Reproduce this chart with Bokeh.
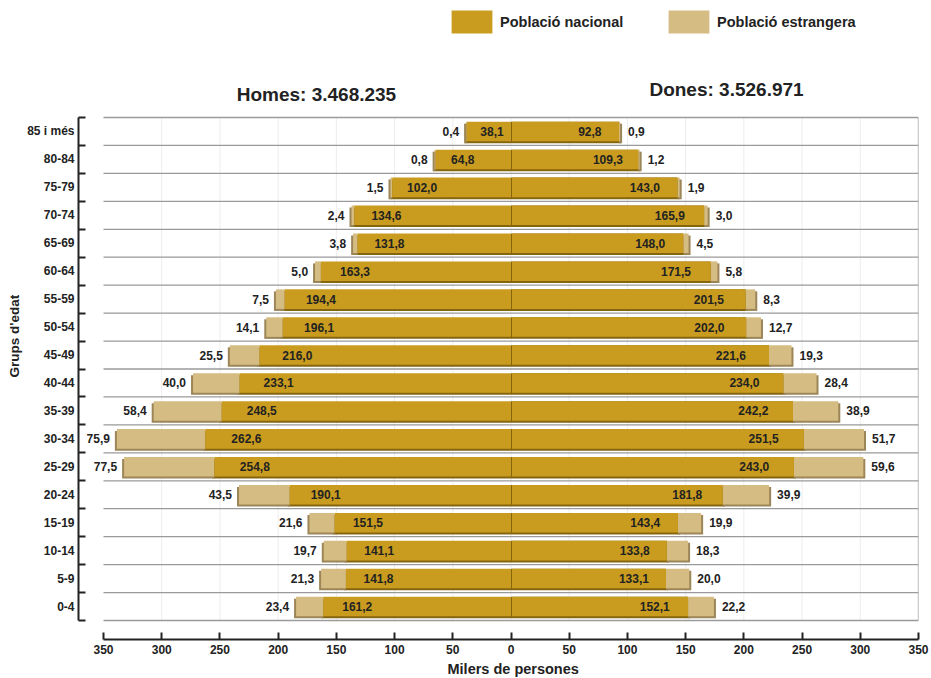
import numpy as np
from bokeh.plotting import figure
from bokeh.models import (ColumnDataSource, FixedTicker, Legend, LegendItem,
                          Label, Title, Range1d)
from bokeh.core.properties import value
from bokeh.embed import file_html
from bokeh.resources import INLINE

# ---------------- data ----------------
groups = ["0-4", "5-9", "10-14", "15-19", "20-24", "25-29", "30-34", "35-39",
          "40-44", "45-49", "50-54", "55-59", "60-64", "65-69", "70-74",
          "75-79", "80-84", "85 i més"]
homes_nacional = [161.2, 141.8, 141.1, 151.5, 190.1, 254.8, 262.6, 248.5, 233.1,
                  216.0, 196.1, 194.4, 163.3, 131.8, 134.6, 102.0, 64.8, 38.1]
homes_estrangera = [23.4, 21.3, 19.7, 21.6, 43.5, 77.5, 75.9, 58.4, 40.0,
                    25.5, 14.1, 7.5, 5.0, 3.8, 2.4, 1.5, 0.8, 0.4]
dones_nacional = [152.1, 133.1, 133.8, 143.4, 181.8, 243.0, 251.5, 242.2, 234.0,
                  221.6, 202.0, 201.5, 171.5, 148.0, 165.9, 143.0, 109.3, 92.8]
dones_estrangera = [22.2, 20.0, 18.3, 19.9, 39.9, 59.6, 51.7, 38.9, 28.4,
                    19.3, 12.7, 8.3, 5.8, 4.5, 3.0, 1.9, 1.2, 0.9]
x_ticks = [-350, -300, -250, -200, -150, -100, -50, 0, 50, 100, 150, 200, 250, 300, 350]
title_homes = "Homes: 3.468.235"
title_dones = "Dones: 3.526.971"
legend_labels = ["Població nacional", "Població estrangera"]
x_label = "Milers de persones"
y_label = "Grups d'edat"

# ---------------- style ----------------
FONT_NAME = "Liberation Sans"
FONT = value(FONT_NAME)
INK = "#222222"
NAC, NAC_SH = "#C99C1F", "#86650F"
EST, EST_SH = "#D5BC83", "#9C8658"

FRAME_W, FRAME_H = 840, 631
PX_X = 815 / 700.0       # pixels per thousand persons
PX_Y = 503 / 18.0        # pixels per row
X0 = -350 - 25 / PX_X
Y0 = -0.5 - 19 / PX_Y
Y1 = Y0 + FRAME_H / PX_Y
DX = 2.0 / PX_X          # shadow offset (2px)
DY = 2.0 / PX_Y
GAP = 1.0 / PX_X
BAR_H = 0.70

def fmt(v):
    return f"{v:.1f}".replace(".", ",")

ys = np.arange(len(groups), dtype=float)
hn = np.array(homes_nacional)
he = np.array(homes_estrangera)
dn = np.array(dones_nacional)
de = np.array(dones_estrangera)
bounds_y = list(np.append(ys - 0.5, ys[-1] + 0.5))

src = ColumnDataSource(dict(
    y=ys, ys=ys - DY,
    hn_l=-hn, hn_r=np.zeros_like(hn), hn_sl=-hn - DX,
    he_l=-(hn + he), he_r=-hn, he_sl=-(hn + he) - DX,
    dn_l=np.zeros_like(dn) + GAP, dn_sl=np.zeros_like(dn), dn_r=dn, dn_sr=dn + DX,
    de_l=dn, de_r=dn + de, de_sr=dn + de + DX,
    hn_txt=[fmt(v) for v in hn], he_txt=[fmt(v) for v in he],
    dn_txt=[fmt(v) for v in dn], de_txt=[fmt(v) for v in de],
    hn_tx=-(0.94 * hn - 19.5), dn_tx=(0.94 * dn - 19.5),
))

p = figure(frame_width=FRAME_W, frame_height=FRAME_H,
           output_backend="svg", toolbar_location=None,
           x_range=Range1d(X0, X0 + FRAME_W / PX_X),
           y_range=Range1d(Y0, Y1),
           min_border_left=78, min_border_right=12, min_border_top=8,
           min_border_bottom=39)
p.outline_line_color = None
p.grid.grid_line_color = None
p.background_fill_color = "white"
p.border_fill_color = "white"

# grid lines
p.segment(x0=x_ticks[1:-1], x1=x_ticks[1:-1], y0=bounds_y[0], y1=bounds_y[-1],
          line_color="#ededed", line_width=1)
p.segment(x0=x_ticks[0], x1=x_ticks[-1], y0=bounds_y, y1=bounds_y,
          line_color="#9a9a9a", line_width=1.3)
p.segment(x0=x_ticks[-1], x1=x_ticks[-1], y0=bounds_y[0], y1=bounds_y[-1],
          line_color="#9a9a9a", line_width=1.3)

# shadows
p.hbar(y="ys", left="hn_sl", right="hn_r", height=BAR_H, source=src,
       fill_color=NAC_SH, line_color=None)
p.hbar(y="ys", left="he_sl", right="he_r", height=BAR_H, source=src,
       fill_color=EST_SH, line_color=None)
p.hbar(y="ys", left="dn_sl", right="dn_sr", height=BAR_H, source=src,
       fill_color=NAC_SH, line_color=None)
p.hbar(y="ys", left="de_l", right="de_sr", height=BAR_H, source=src,
       fill_color=EST_SH, line_color=None)
p.hbar(y="y", left="dn_sl", right="dn_r", height=BAR_H, source=src,
       fill_color=NAC_SH, line_color=None)
# bodies
r_he = p.hbar(y="y", left="he_l", right="he_r", height=BAR_H, source=src,
              fill_color=EST, line_color=None)
r_de = p.hbar(y="y", left="de_l", right="de_r", height=BAR_H, source=src,
              fill_color=EST, line_color=None)
r_hn = p.hbar(y="y", left="hn_l", right="hn_r", height=BAR_H, source=src,
              fill_color=NAC, line_color=None)
r_dn = p.hbar(y="y", left="dn_l", right="dn_r", height=BAR_H, source=src,
              fill_color=NAC, line_color=None)

# value labels
tkw = dict(source=src, text_font=FONT, text_font_style="bold",
           text_font_size="12px", text_color=INK, text_baseline="middle")
p.text(x="hn_tx", y="y", text="hn_txt", text_align="center", **tkw)
p.text(x="dn_tx", y="y", text="dn_txt", text_align="center", **tkw)
p.text(x="he_sl", y="y", text="he_txt", text_align="right", x_offset=-5, **tkw)
p.text(x="de_sr", y="y", text="de_txt", text_align="left", x_offset=6, **tkw)

# titles
for txt, xx, yy in [(title_homes, -167.1, 17.5 + 22.7 / PX_Y),
                    (title_dones, 185.1, 17.5 + 27.7 / PX_Y)]:
    p.add_layout(Label(x=xx, y=yy, text=txt, text_align="center",
                       text_baseline="middle", text_font=FONT_NAME,
                       text_font_style="bold",
                       text_font_size="19px", text_color=INK))

# legends
for lab, rend, vx in [(legend_labels[0], r_hn, 368), (legend_labels[1], r_he, 585)]:
    lg = Legend(items=[LegendItem(label=lab, renderers=[rend])],
                location=(vx, 603), orientation="horizontal",
                glyph_width=51, glyph_height=29, label_standoff=3,
                padding=0, margin=0, spacing=0,
                border_line_color=None, background_fill_alpha=0,
                label_text_font=FONT_NAME, label_text_font_style="bold",
                label_text_font_size="14.5px", label_text_color=INK)
    p.add_layout(lg)

# x axis
xa = p.xaxis[0]
xa.ticker = FixedTicker(ticks=x_ticks)
xa.major_label_overrides = {t: str(abs(t)) for t in x_ticks}
xa.bounds = (x_ticks[0], x_ticks[-1])
xa.axis_line_color = INK
xa.axis_line_width = 2
xa.major_tick_in = 7
xa.major_tick_out = 0
xa.major_tick_line_color = INK
xa.major_tick_line_width = 2
xa.minor_tick_line_color = None
xa.major_label_standoff = 5
xa.major_label_text_font = FONT_NAME
xa.major_label_text_font_style = "bold"
xa.major_label_text_font_size = "12px"
xa.major_label_text_color = INK

# y axis
ya = p.yaxis[0]
ya.ticker = FixedTicker(ticks=list(ys), minor_ticks=bounds_y)
ya.major_label_overrides = {float(y): g for y, g in zip(ys, groups)}
ya.bounds = (bounds_y[0], bounds_y[-1])
ya.axis_line_color = INK
ya.axis_line_width = 2
ya.major_tick_in = 0
ya.major_tick_out = 0
ya.minor_tick_in = 7
ya.minor_tick_out = 0
ya.minor_tick_line_color = INK
ya.minor_tick_line_width = 2
ya.major_label_standoff = 4
ya.major_label_text_font = FONT_NAME
ya.major_label_text_font_style = "bold"
ya.major_label_text_font_size = "12px"
ya.major_label_text_color = INK

# axis titles (as side titles so they can be placed precisely)
p.add_layout(Title(text=x_label, align="left", offset=369, standoff=4,
                   text_font=FONT_NAME, text_font_style="bold",
                   text_font_size="14.5px", text_color=INK), "below")
p.add_layout(Title(text=y_label, align="left", offset=262, standoff=6,
                   text_font=FONT_NAME, text_font_style="bold",
                   text_font_size="13.5px", text_color=INK), "left")

open("out.html", "w").write(file_html(p, INLINE))
